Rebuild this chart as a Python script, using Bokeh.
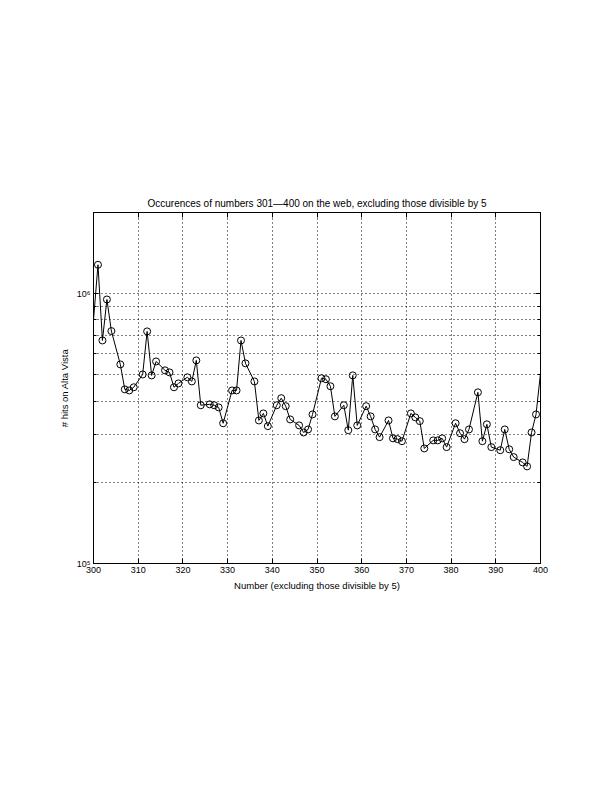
from bokeh.plotting import figure
from bokeh.models import Range1d, FixedTicker, LinearAxis, LogAxis
from bokeh.embed import file_html
from bokeh.resources import INLINE

# Data: numbers 301-400 excluding multiples of 5, hits on Alta Vista
numbers = [301, 302, 303, 304, 306, 307, 308, 309, 311, 312, 313, 314, 316, 317, 318, 319,
           321, 322, 323, 324, 326, 327, 328, 329, 331, 332, 333, 334, 336, 337, 338, 339,
           341, 342, 343, 344, 346, 347, 348, 349, 351, 352, 353, 354, 356, 357, 358, 359,
           361, 362, 363, 364, 366, 367, 368, 369, 371, 372, 373, 374, 376, 377, 378, 379,
           381, 382, 383, 384, 386, 387, 388, 389, 391, 392, 393, 394, 396, 397, 398, 399]
hits = [1280000, 671000, 952000, 727000, 547000, 442000, 438000, 450000,
        502000, 725000, 498000, 561000, 520000, 511000, 450000, 465000,
        490000, 473000, 566000, 386000, 389000, 386000, 379000, 331000,
        438000, 438000, 671000, 552000, 473000, 339000, 360000, 323000,
        386000, 410000, 383000, 342000, 325000, 306000, 314000, 357000,
        486000, 482000, 454000, 351000, 386000, 312000, 498000, 325000,
        383000, 351000, 314000, 294000, 339000, 291000, 289000, 284000,
        360000, 348000, 337000, 267000, 286000, 286000, 291000, 270000,
        331000, 304000, 289000, 314000, 431000, 284000, 328000, 270000,
        263000, 314000, 265000, 248000, 237000, 229000, 306000, 357000]
# line end points at the plot edges (no markers there)
edge_numbers = [300, 400]
edge_hits = [800000, 507000]

x_ticks = [300, 310, 320, 330, 340, 350, 360, 370, 380, 390, 400]
y_major = [1e5, 1e6]
y_minor = [2e5, 3e5, 4e5, 5e5, 6e5, 7e5, 8e5, 9e5, 2e6]

FONT = "Liberation Sans"

p = figure(width=604, height=784, x_range=Range1d(300, 400), y_range=Range1d(1e5, 2e6),
           y_axis_type="log", output_backend="svg", toolbar_location=None,
           min_border_left=93, min_border_right=64, min_border_top=212, min_border_bottom=221,
           title="Occurences of numbers 301\u2014400 on the web, excluding those divisible by 5",
           background_fill_color="white", border_fill_color="white")

p.title.text_font = FONT
p.title.text_font_size = "10px"
p.title.text_font_style = "normal"
p.title.text_color = "black"
p.title.align = "center"
p.title.standoff = 7

p.outline_line_color = "black"
p.outline_line_width = 1

xt = FixedTicker(ticks=x_ticks, minor_ticks=[])
yt = FixedTicker(ticks=y_major, minor_ticks=y_minor)
overrides = {1e5: "10\u2075", 1e6: "10\u2076"}

xa = p.xaxis[0]
xa.ticker = xt
xa.axis_label = "Number (excluding those divisible by 5)"
ya = p.yaxis[0]
ya.ticker = yt
ya.major_label_overrides = overrides
ya.axis_label = "# hits on Alta Vista"

for ax in (xa, ya):
    ax.axis_line_color = "black"
    ax.major_tick_in = 5
    ax.major_tick_out = 0
    ax.minor_tick_in = 3
    ax.minor_tick_out = 0
    ax.major_tick_line_color = "black"
    ax.minor_tick_line_color = "black"
    ax.major_label_text_font = FONT
    ax.major_label_text_font_size = "9px"
    ax.major_label_text_color = "black"
    ax.axis_label_text_font = FONT
    ax.axis_label_text_font_size = "9.5px"
    ax.axis_label_text_font_style = "normal"
    ax.axis_label_text_color = "black"
    ax.major_label_standoff = 3
    ax.axis_label_standoff = 4

top = LinearAxis(ticker=xt, major_tick_in=5, major_tick_out=0, minor_tick_in=0, minor_tick_out=0,
                 major_label_text_font_size="1px", major_label_text_color=None,
                 major_label_standoff=0, axis_line_color="black")
right = LogAxis(ticker=yt, major_tick_in=5, major_tick_out=0, minor_tick_in=3, minor_tick_out=0,
                major_label_text_font_size="1px", major_label_text_color=None,
                major_label_standoff=0, axis_line_color="black")
p.add_layout(top, "above")
p.add_layout(right, "right")

p.xgrid.ticker = xt
p.xgrid.grid_line_color = "black"
p.xgrid.grid_line_dash = "1 3"
p.xgrid.grid_line_width = 1
p.ygrid.ticker = yt
p.ygrid.grid_line_color = "black"
p.ygrid.grid_line_dash = "1 3"
p.ygrid.minor_grid_line_color = "black"
p.ygrid.minor_grid_line_dash = "1 3"

line_x = [edge_numbers[0]] + numbers + [edge_numbers[1]]
line_y = [edge_hits[0]] + hits + [edge_hits[1]]
p.line(line_x, line_y, line_color="black", line_width=1)
p.scatter(numbers, hits, marker="circle", size=7, fill_color=None,
          line_color="black", line_width=1)

open("out.html", "w").write(file_html(p, INLINE))
